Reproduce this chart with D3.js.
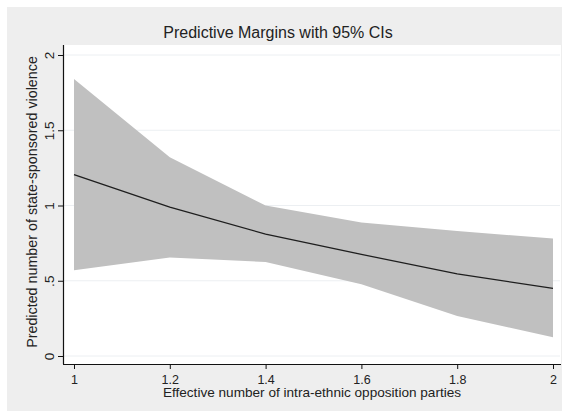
<!DOCTYPE html>
<html>
<head>
<meta charset="utf-8">
<script src="https://cdn.jsdelivr.net/npm/d3@7/dist/d3.min.js"></script>
<style>
  html, body { margin: 0; padding: 0; background: #ffffff; }
  svg { display: block; font-family: "Liberation Sans", Arial, sans-serif; }
</style>
</head>
<body>
<svg id="chart" width="562" height="415"></svg>
<script>
// Predictive margins of state-sponsored violence with 95% confidence band
const xValues = [1, 1.2, 1.4, 1.6, 1.8, 2];
const margin = [1.205, 0.99, 0.81, 0.675, 0.545, 0.45];
const ciLower = [0.57, 0.655, 0.625, 0.477, 0.265, 0.125];
const ciUpper = [1.84, 1.32, 1.0, 0.887, 0.83, 0.78];
const xTicks = [1, 1.2, 1.4, 1.6, 1.8, 2];
const yTicks = [0, 0.5, 1, 1.5, 2];
const xTickLabels = ["1", "1.2", "1.4", "1.6", "1.8", "2"];
const yTickLabels = ["0", ".5", "1", "1.5", "2"];

const svg = d3.select("#chart");

// outer graph region
svg.append("rect")
  .attr("x", 7).attr("y", 7).attr("width", 555).attr("height", 404)
  .attr("fill", "#eeeeee");

// plot region
const plot = { left: 63, right: 561, top: 45, bottom: 364 };
svg.append("rect")
  .attr("x", plot.left).attr("y", plot.top)
  .attr("width", plot.right - plot.left).attr("height", plot.bottom - plot.top)
  .attr("fill", "#ffffff");

const x = d3.scaleLinear().domain([1, 2]).range([74, 553]);
const y = d3.scaleLinear().domain([0, 2]).range([356, 55]);

// horizontal grid
svg.append("g").selectAll("line").data(yTicks).join("line")
  .attr("x1", plot.left + 1).attr("x2", plot.right - 1)
  .attr("y1", d => y(d)).attr("y2", d => y(d))
  .attr("stroke", "#eceff2").attr("stroke-width", 1);

const rows = xValues.map((v, i) => ({ x: v, m: margin[i], lo: ciLower[i], hi: ciUpper[i] }));

// confidence band
svg.append("path").datum(rows)
  .attr("d", d3.area().x(d => x(d.x)).y0(d => y(d.lo)).y1(d => y(d.hi)))
  .attr("fill", "#c0c0c0");

// predicted margin
svg.append("path").datum(rows)
  .attr("d", d3.line().x(d => x(d.x)).y(d => y(d.m)))
  .attr("fill", "none").attr("stroke", "#1e1e1e").attr("stroke-width", 1.3);

// x axis
const xAxis = svg.append("g").attr("transform", `translate(0,${plot.bottom})`)
  .call(d3.axisBottom(x).tickValues(xTicks).tickSize(5).tickSizeOuter(0)
    .tickFormat((d, i) => xTickLabels[i]));
xAxis.select(".domain").attr("d", `M${plot.left},0.5H${plot.right}`).attr("stroke", "#111").attr("stroke-width", 1.2);
xAxis.selectAll(".tick line").attr("stroke", "#111");
xAxis.selectAll(".tick text")
  .attr("y", 19.5).attr("dy", null)
  .attr("font-family", "Liberation Sans, Arial, sans-serif")
  .attr("font-size", 12.5).attr("fill", "#222");

// y axis
const yAxis = svg.append("g").attr("transform", `translate(${plot.left},0)`)
  .call(d3.axisLeft(y).tickValues(yTicks).tickSize(5).tickSizeOuter(0)
    .tickFormat((d, i) => yTickLabels[i]));
yAxis.select(".domain").attr("d", `M0.5,${plot.top}V${plot.bottom}`).attr("stroke", "#111").attr("stroke-width", 1.2);
yAxis.selectAll(".tick line").attr("stroke", "#111");
yAxis.selectAll(".tick text")
  .attr("x", null).attr("dy", null)
  .attr("transform", "translate(-9.5,0) rotate(-90)")
  .attr("text-anchor", "middle")
  .attr("font-family", "Liberation Sans, Arial, sans-serif")
  .attr("font-size", 13.5).attr("fill", "#222");

// titles
svg.append("text")
  .attr("x", 278).attr("y", 38)
  .attr("text-anchor", "middle").attr("font-size", 16).attr("fill", "#222")
  .text("Predictive Margins with 95% CIs");

svg.append("text")
  .attr("x", 312).attr("y", 397)
  .attr("text-anchor", "middle").attr("font-size", 13.6).attr("fill", "#222")
  .text("Effective number of intra-ethnic opposition parties");

svg.append("text")
  .attr("transform", "translate(37,202) rotate(-90)")
  .attr("text-anchor", "middle").attr("font-size", 14.3).attr("fill", "#222")
  .text("Predicted number of state-sponsored violence");
</script>
</body>
</html>
